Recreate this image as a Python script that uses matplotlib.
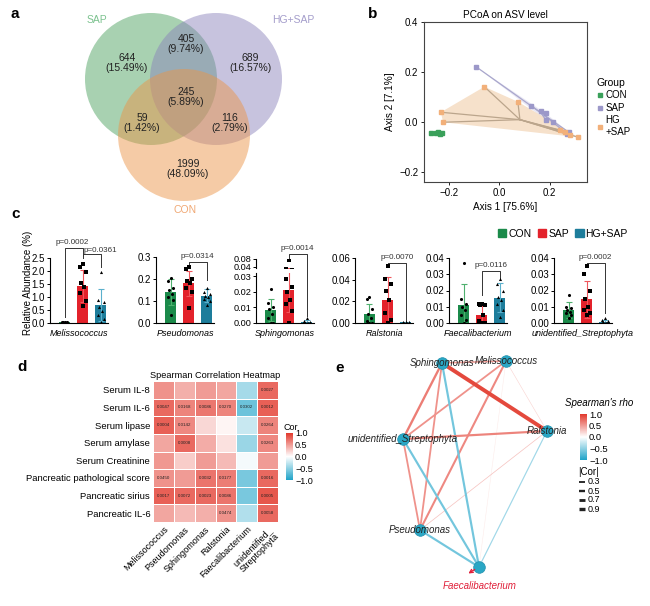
import numpy as np
import matplotlib
matplotlib.use("Agg")
import matplotlib.pyplot as plt
import matplotlib.transforms as mtransforms
from matplotlib.colors import LinearSegmentedColormap, Normalize
from matplotlib.patches import Circle, Patch, Polygon
from matplotlib.cm import ScalarMappable

plt.rcParams["font.family"] = ["Liberation Sans", "DejaVu Sans"]

W, H = 650, 606

# ---------------- data ----------------
# Venn regions: SAP only, SAP&HG, HG only, all three, SAP&CON, HG&CON, CON only
venn_counts = [644, 405, 689, 245, 59, 116, 1999]

# PCoA coordinates
pcoa_con_x = [-0.273, -0.252, -0.243, -0.236, -0.230]
pcoa_con_y = [-0.043, -0.045, -0.040, -0.047, -0.043]
pcoa_sap_x = [-0.093, 0.127, 0.167, 0.184, 0.184, 0.213, 0.276, 0.268]
pcoa_sap_y = [0.221, 0.065, 0.044, 0.035, 0.008, 0.001, -0.041, -0.046]
pcoa_hg_x = [-0.060, 0.073, -0.233, -0.224, 0.240, 0.280, 0.313, 0.262]
pcoa_hg_y = [0.141, 0.081, 0.039, -0.001, -0.032, -0.052, -0.061, -0.040]

# relative abundance bars (CON, SAP, HG+SAP)
genera = ["Melissococcus", "Pseudomonas", "Sphingomonas",
          "Ralstonia", "Faecalibacterium", "unidentified_Streptophyta"]
groups = ["CON", "SAP", "HG+SAP"]
bar_means = [[0.02, 1.42, 0.68],
             [0.14, 0.18, 0.125],
             [0.0085, 0.021, 0.0005],
             [0.0085, 0.021, 0.0005],
             [0.011, 0.005, 0.0155],
             [0.008, 0.0145, 0.0008]]
bar_sds = [[0.02, 0.61, 0.62],
           [0.058, 0.058, 0.03],
           [0.007, 0.014, 0.0015],
           [0.0095, 0.021, 0.0008],
           [0.013, 0.0075, 0.009],
           [0.005, 0.0115, 0.0012]]
points_con = [[0.05, 0.04, 0.03, 0.02, 0.01, 0.01, 0.0, 0.0],
              [0.206, 0.19, 0.16, 0.15, 0.13, 0.12, 0.105, 0.036],
              [0.022, 0.013, 0.010, 0.009, 0.006, 0.003, 0.0, 0.0],
              [0.024, 0.022, 0.013, 0.008, 0.005, 0.002, 0.0, 0.0],
              [0.037, 0.015, 0.012, 0.010, 0.008, 0.005, 0.002, 0.0],
              [0.017, 0.010, 0.009, 0.008, 0.007, 0.006, 0.005, 0.003]]
points_sap = [[2.25, 2.15, 1.95, 1.55, 1.40, 1.15, 0.85, 0.65],
              [0.256, 0.245, 0.20, 0.19, 0.18, 0.16, 0.14, 0.067],
              [0.075, 0.028, 0.023, 0.020, 0.015, 0.012, 0.008, 0.0],
              [0.053, 0.041, 0.036, 0.030, 0.021, 0.009, 0.003, 0.0],
              [0.012, 0.012, 0.011, 0.011, 0.005, 0.001, 0.0, 0.0],
              [0.035, 0.030, 0.020, 0.015, 0.010, 0.008, 0.006, 0.005]]
points_hg = [[1.95, 0.90, 0.80, 0.60, 0.45, 0.30, 0.15, 0.05],
             [0.16, 0.14, 0.13, 0.125, 0.12, 0.11, 0.10, 0.08],
             [0.003, 0.001, 0.0005, 0.0, 0.0, 0.0, 0.0, 0.0],
             [0.001, 0.0008, 0.0005, 0.0003, 0.0, 0.0, 0.0, 0.0],
             [0.027, 0.024, 0.020, 0.016, 0.014, 0.012, 0.008, 0.004],
             [0.003, 0.002, 0.001, 0.0005, 0.0, 0.0, 0.0, 0.0]]
# significance brackets: genus index, group a, group b, label
p_tests = [(0, 0, 1, "p=0.0002"), (0, 1, 2, "p=0.0361"), (1, 1, 2, "p=0.0314"),
           (2, 1, 2, "p=0.0014"), (3, 1, 2, "p=0.0070"), (4, 1, 2, "p=0.0116"),
           (5, 1, 2, "p=0.0002")]

# Spearman heatmap
heat_rows = ["Serum IL-8", "Serum IL-6", "Serum lipase", "Serum amylase",
             "Serum Creatinine", "Pancreatic pathological score",
             "Pancreatic sirius", "Pancreatic IL-6"]
heat_cols = ["Melissococcus", "Pseudomonas", "Sphingomonas", "Ralstonia",
             "Faecalibacterium", "unidentified_\nStreptophyta"]
heat_cor = [[0.55, 0.40, 0.50, 0.45, -0.40, 0.75],
            [0.75, 0.62, 0.68, 0.62, -0.65, 0.80],
            [0.80, 0.60, 0.20, 0.05, -0.25, 0.62],
            [0.45, 0.75, 0.42, 0.15, -0.45, 0.60],
            [0.52, 0.25, 0.50, 0.35, -0.05, 0.50],
            [0.55, 0.50, 0.70, 0.65, -0.60, 0.75],
            [0.80, 0.75, 0.75, 0.70, -0.60, 0.85],
            [0.45, 0.35, 0.40, 0.55, -0.35, 0.75]]
heat_p = [["", "", "", "", "", "0.0027"],
          ["0.0047", "0.0168", "0.0086", "0.0270", "0.0302", "0.0012"],
          ["0.0004", "0.0142", "", "", "", "0.0264"],
          ["", "0.0008", "", "", "", "0.0263"],
          ["", "", "", "", "", ""],
          ["0.0450", "", "0.0032", "0.0177", "", "0.0016"],
          ["0.0017", "0.0072", "0.0023", "0.0086", "", "0.0005"],
          ["", "", "", "0.0474", "", "0.0058"]]

# correlation network
net_nodes = ["Sphingomonas", "Melissococcus", "Ralstonia",
             "unidentified_Streptophyta", "Pseudomonas", "Faecalibacterium"]
net_edges = [("Sphingomonas", "Ralstonia", 0.92),
             ("Sphingomonas", "Melissococcus", 0.50),
             ("Sphingomonas", "unidentified_Streptophyta", 0.65),
             ("Sphingomonas", "Pseudomonas", 0.55),
             ("Sphingomonas", "Faecalibacterium", -0.62),
             ("Melissococcus", "unidentified_Streptophyta", 0.55),
             ("Melissococcus", "Pseudomonas", 0.60),
             ("Melissococcus", "Ralstonia", 0.22),
             ("Melissococcus", "Faecalibacterium", 0.10),
             ("Ralstonia", "unidentified_Streptophyta", 0.62),
             ("Ralstonia", "Pseudomonas", 0.30),
             ("Ralstonia", "Faecalibacterium", -0.42),
             ("unidentified_Streptophyta", "Pseudomonas", 0.55),
             ("unidentified_Streptophyta", "Faecalibacterium", -0.62),
             ("Pseudomonas", "Faecalibacterium", -0.62)]
cor_legend = [0.3, 0.5, 0.7, 0.9]

# ---------------- helpers ----------------
fig = plt.figure(figsize=(W / 100, H / 100), dpi=100)


def px_axes(x0, y0, x1, y1):
    return fig.add_axes([x0 / W, 1 - y1 / H, (x1 - x0) / W, (y1 - y0) / H])


def ftext(x, y, s, **kw):
    return fig.text(x / W, 1 - y / H, s, **kw)


def hull(pts):
    pts = sorted(set(pts))
    cross = lambda o, a, b: (a[0] - o[0]) * (b[1] - o[1]) - (a[1] - o[1]) * (b[0] - o[0])
    lower, upper = [], []
    for p in pts:
        while len(lower) >= 2 and cross(lower[-2], lower[-1], p) <= 0:
            lower.pop()
        lower.append(p)
    for p in reversed(pts):
        while len(upper) >= 2 and cross(upper[-2], upper[-1], p) <= 0:
            upper.pop()
        upper.append(p)
    return lower[:-1] + upper[:-1]


for lab, x, y in [("a", 15, 14), ("b", 373, 14), ("c", 16, 214), ("d", 22, 367), ("e", 340, 368)]:
    ftext(x, y, lab, fontsize=11, fontweight="bold", va="center", ha="center")

# ---------------- a: Venn ----------------
ax = px_axes(0, 0, 330, 215)
ax.set_xlim(0, 330)
ax.set_ylim(215, 0)
ax.axis("off")
for (cx, cy), col in [((151, 79), "#4a9f5d"), ((216, 79), "#8a82bb"), ((184, 135), "#ec9446")]:
    ax.add_patch(Circle((cx, cy), 66, fc=col, alpha=0.48, ec="none"))
total = sum(venn_counts)
venn_xy = [(127, 63), (186, 44), (250, 63), (186, 97), (142, 123), (230, 123), (188, 169)]
for n, (x, y) in zip(venn_counts, venn_xy):
    ax.text(x, y, f"{n}\n({n / total * 100:.2f}%)", ha="center", va="center",
            fontsize=7.5, color="#222222", linespacing=1.05)
ax.text(97, 20, "SAP", color="#7cc28f", fontsize=7.5, ha="center", va="center")
ax.text(293, 20, "HG+SAP", color="#a49dcb", fontsize=7.5, ha="center", va="center")
ax.text(185, 210, "CON", color="#f0a874", fontsize=7.5, ha="center", va="center")

# ---------------- b: PCoA ----------------
ax = px_axes(424, 22, 587, 182)
ax.set_xlim(-0.3, 0.348)
ax.set_ylim(-0.24, 0.4)
pc_groups = [("CON", pcoa_con_x, pcoa_con_y, "#3aa05a", "#d5ecd9", "#9cc7a5"),
             ("SAP", pcoa_sap_x, pcoa_sap_y, "#9c98c9", "#e4e2f2", "#a9a7cc"),
             ("HG\n+SAP", pcoa_hg_x, pcoa_hg_y, "#f2b07a", "#f5dcc2", "#bba58c")]
for name, xs, ys, col, fill, spider in pc_groups:
    pts = list(zip(xs, ys))
    ax.add_patch(Polygon(hull(pts), closed=True, fc=fill, ec="none", alpha=0.85, zorder=1))
    cx, cy = np.mean(xs), np.mean(ys)
    for x, y in pts:
        ax.plot([cx, x], [cy, y], color=spider, lw=0.9, zorder=2)
    ax.plot(xs, ys, "s", ms=2.2, color=col, zorder=3, label=name)
ax.set_xticks([-0.2, 0.0, 0.2])
ax.set_yticks([-0.2, 0.0, 0.2, 0.4])
ax.xaxis.set_major_formatter("{x:.1f}")
ax.yaxis.set_major_formatter("{x:.1f}")
ax.tick_params(labelsize=7, length=2, width=0.6, pad=2)
for s in ax.spines.values():
    s.set_linewidth(0.8)
    s.set_color("#444444")
ax.set_title("PCoA on ASV level", fontsize=7.2, pad=3)
ax.set_xlabel("Axis 1 [75.6%]", fontsize=7.2, labelpad=3)
ax.set_ylabel("Axis 2 [7.1%]", fontsize=7.2, labelpad=3)
leg = ax.legend(loc="upper left", bbox_to_anchor=(1.03, 0.68), frameon=False, title="Group",
                fontsize=7, title_fontsize=7.5, handlelength=0.6, handletextpad=0.3,
                labelspacing=0.25, borderpad=0, markerscale=1.2)
leg._legend_box.align = "left"

# ---------------- c: bars ----------------
bar_colors = ["#1b8a4a", "#e3222b", "#1d7d9b"]
err_colors = ["#4fb06e", "#f0575c", "#5bb0cc"]
markers = ["o", "s", "^"]
jit = [0.0, -0.16, 0.16, -0.08, 0.08, -0.16, 0.16, 0.0]
bar_px = [(50, 258, 108, 323), (156, 257, 214, 323), (256, 273, 314, 323),
          (355, 258, 413, 323), (449, 258, 507, 323), (554, 258, 612, 323)]
yticks = [[0, 0.5, 1.0, 1.5, 2.0, 2.5], [0, 0.1, 0.2, 0.3], [0, 0.01, 0.02, 0.03],
          [0, 0.02, 0.04, 0.06], [0, 0.01, 0.02, 0.03, 0.04], [0, 0.01, 0.02, 0.03, 0.04]]
yfmt = ["{x:.1f}", "{x:.1f}", "{x:.2f}", "{x:.2f}", "{x:.2f}", "{x:.2f}"]
ylims = [2.5, 0.3, 0.032, 0.06, 0.04, 0.04]
# bracket geometry in axes fraction: (top, left leg end, right leg end, text x, text gap)
bracket_y = [(1.16, 0.09, 1.03, 0.4, 0.03), (1.06, 1.00, 0.86, 2.0, 0.005),
             (0.93, 0.89, 0.65, 1.5, 0.03), (1.38, 1.30, 0.14, 1.5, 0.03),
             (0.92, 0.88, 0.03, 1.5, 0.03), (0.80, 0.43, 0.69, 1.5, 0.03),
             (0.92, 0.87, 0.15, 1.5, 0.03)]


def draw_bars(ax, g):
    xs = np.arange(3)
    ax.bar(xs, bar_means[g], width=0.62, color=bar_colors, zorder=1)
    for i in range(3):
        ax.errorbar(xs[i], bar_means[g][i], yerr=bar_sds[g][i], color=err_colors[i],
                    capsize=2.2, lw=0.8, capthick=0.8, zorder=2)
    for i, pts in enumerate([points_con[g], points_sap[g], points_hg[g]]):
        ax.scatter(xs[i] + np.array(jit[:len(pts)]), pts, marker=markers[i], s=5,
                   color="black", zorder=3, linewidths=0)
    ax.set_xlim(-0.8, 2.4)


def style(ax, fs=7):
    for s in ["top", "right"]:
        ax.spines[s].set_visible(False)
    for s in ["left", "bottom"]:
        ax.spines[s].set_linewidth(0.8)
    ax.set_xticks([])
    ax.tick_params(axis="y", labelsize=fs, length=2.5, width=0.7, pad=1)


bar_ax = []
for g, (x0, y0, x1, y1) in enumerate(bar_px):
    ax = px_axes(x0, y0, x1, y1)
    draw_bars(ax, g)
    ax.set_ylim(0, ylims[g])
    ax.set_yticks(yticks[g])
    ax.yaxis.set_major_formatter(yfmt[g])
    style(ax, 6.6 if g == 2 else 7)
    ax.set_xlabel(genera[g], fontsize=6.5, style="italic", labelpad=4)
    bar_ax.append(ax)

# broken upper segment for Sphingomonas
ax = px_axes(256, 259, 314, 268)
draw_bars(ax, 2)
ax.set_ylim(0.035, 0.08)
ax.set_yticks([0.04, 0.08])
ax.yaxis.set_major_formatter("{x:.2f}")
style(ax, 6.6)
ax.spines["bottom"].set_visible(False)
ax.patch.set_alpha(0)

for (g, a, b, lab), (top, ya, yb, tx, gap) in zip(p_tests, bracket_y):
    ax = bar_ax[g]
    tr = mtransforms.blended_transform_factory(ax.transData, ax.transAxes)
    ax.plot([a, a, b, b], [ya, top, top, yb], color="#333333", lw=0.7,
            transform=tr, clip_on=False)
    ax.text(tx, top + gap, lab, transform=tr, ha="center", va="bottom",
            fontsize=5.8, color="#333333")

ftext(28, 283, "Relative Abundance (%)", rotation=90, fontsize=7, ha="center", va="center")
fig.legend(handles=[Patch(color=c, label=l) for c, l in zip(bar_colors, groups)],
           loc="center", bbox_to_anchor=(563 / W, 1 - 234 / H), ncol=3, frameon=False,
           fontsize=7.5, handlelength=0.8, handleheight=0.8, handletextpad=0.2,
           columnspacing=0.6)

# ---------------- d: heatmap ----------------
cmap = LinearSegmentedColormap.from_list("rb", ["#1fa3c8", "#ffffff", "#e2392d"])
norm = Normalize(-1, 1)
ax = px_axes(153, 381, 278, 522)
cor = np.array(heat_cor)
ax.pcolormesh(cor, cmap=cmap, norm=norm, edgecolors="white", linewidth=0.6)
ax.set_xlim(0, len(heat_cols))
ax.set_ylim(len(heat_rows), 0)
for r in range(len(heat_rows)):
    for c in range(len(heat_cols)):
        if heat_p[r][c]:
            ax.text(c + 0.5, r + 0.5, heat_p[r][c], ha="center", va="center", fontsize=3.2,
                    color="#222222")
ax.set_xticks(np.arange(len(heat_cols)) + 0.5)
ax.set_xticklabels(heat_cols, rotation=45, ha="right", rotation_mode="anchor", fontsize=6.5,
                   linespacing=1.0)
ax.set_yticks(np.arange(len(heat_rows)) + 0.5)
ax.set_yticklabels(heat_rows, fontsize=6.8)
ax.tick_params(length=0, pad=2)
for s in ax.spines.values():
    s.set_visible(False)
ax.set_title("Spearman Correlation Heatmap", fontsize=6.6, pad=2)
cax = px_axes(286, 433, 293, 480)
cb = fig.colorbar(ScalarMappable(norm=norm, cmap=cmap), cax=cax, ticks=[-1, -0.5, 0, 0.5, 1])
cb.outline.set_visible(False)
cb.ax.tick_params(labelsize=6.5, length=0, pad=1.5)
cb.ax.yaxis.set_major_formatter("{x:.1f}")
ftext(284, 428, "Cor", fontsize=6.5, ha="left", va="center")

# ---------------- e: network ----------------
node_pos = {"Sphingomonas": (442, 363), "Melissococcus": (506, 361), "Ralstonia": (547, 431),
            "unidentified_Streptophyta": (403, 439), "Pseudomonas": (420, 530),
            "Faecalibacterium": (479, 567)}
ax = px_axes(320, 345, 650, 606)
ax.set_xlim(320, 650)
ax.set_ylim(606, 345)
ax.axis("off")
for a, b, r in sorted(net_edges, key=lambda e: abs(e[2])):
    (xa, ya), (xb, yb) = node_pos[a], node_pos[b]
    ax.plot([xa, xb], [ya, yb], color=cmap(norm(r)), lw=max(0.4, 3.2 * abs(r) ** 1.5),
            solid_capstyle="butt", zorder=1)
for n in net_nodes:
    x, y = node_pos[n]
    ax.scatter(x, y, s=70, color="#2aa7c5", edgecolors="#1f8fac", linewidths=0.5, zorder=2)
    if n != "Faecalibacterium":
        ax.text(x, y, n, style="italic", fontsize=7, ha="center", va="center",
                color="#222222", zorder=3)
fx, fy = node_pos["Faecalibacterium"]
ax.annotate("", xy=(fx - 13, fy + 8), xytext=(fx - 2, fy + 1),
            arrowprops=dict(arrowstyle="->", color="#e0203a", lw=1.0, mutation_scale=6))
ax.text(fx + 1, fy + 19, "Faecalibacterium", style="italic", fontsize=7, color="#e0203a",
        ha="center", va="center")
cax = px_axes(580, 414, 587, 460)
cb = fig.colorbar(ScalarMappable(norm=norm, cmap=cmap), cax=cax, ticks=[-1, -0.5, 0, 0.5, 1])
cb.outline.set_visible(False)
cb.ax.tick_params(labelsize=6.8, length=0, pad=1.5)
cb.ax.yaxis.set_major_formatter("{x:.1f}")
ftext(599, 403, "Spearman's rho", style="italic", fontsize=7, ha="center", va="center")
ftext(578, 472, "|Cor|", fontsize=7, ha="left", va="center")
for i, v in enumerate(cor_legend):
    y = 482 + i * 9
    ax.plot([579, 585], [y, y], color="#222222", lw=0.8 + 1.8 * v, solid_capstyle="butt")
    ftext(588, y, f"{v}", fontsize=6.5, ha="left", va="center")

fig.savefig("out.png", dpi=100)
